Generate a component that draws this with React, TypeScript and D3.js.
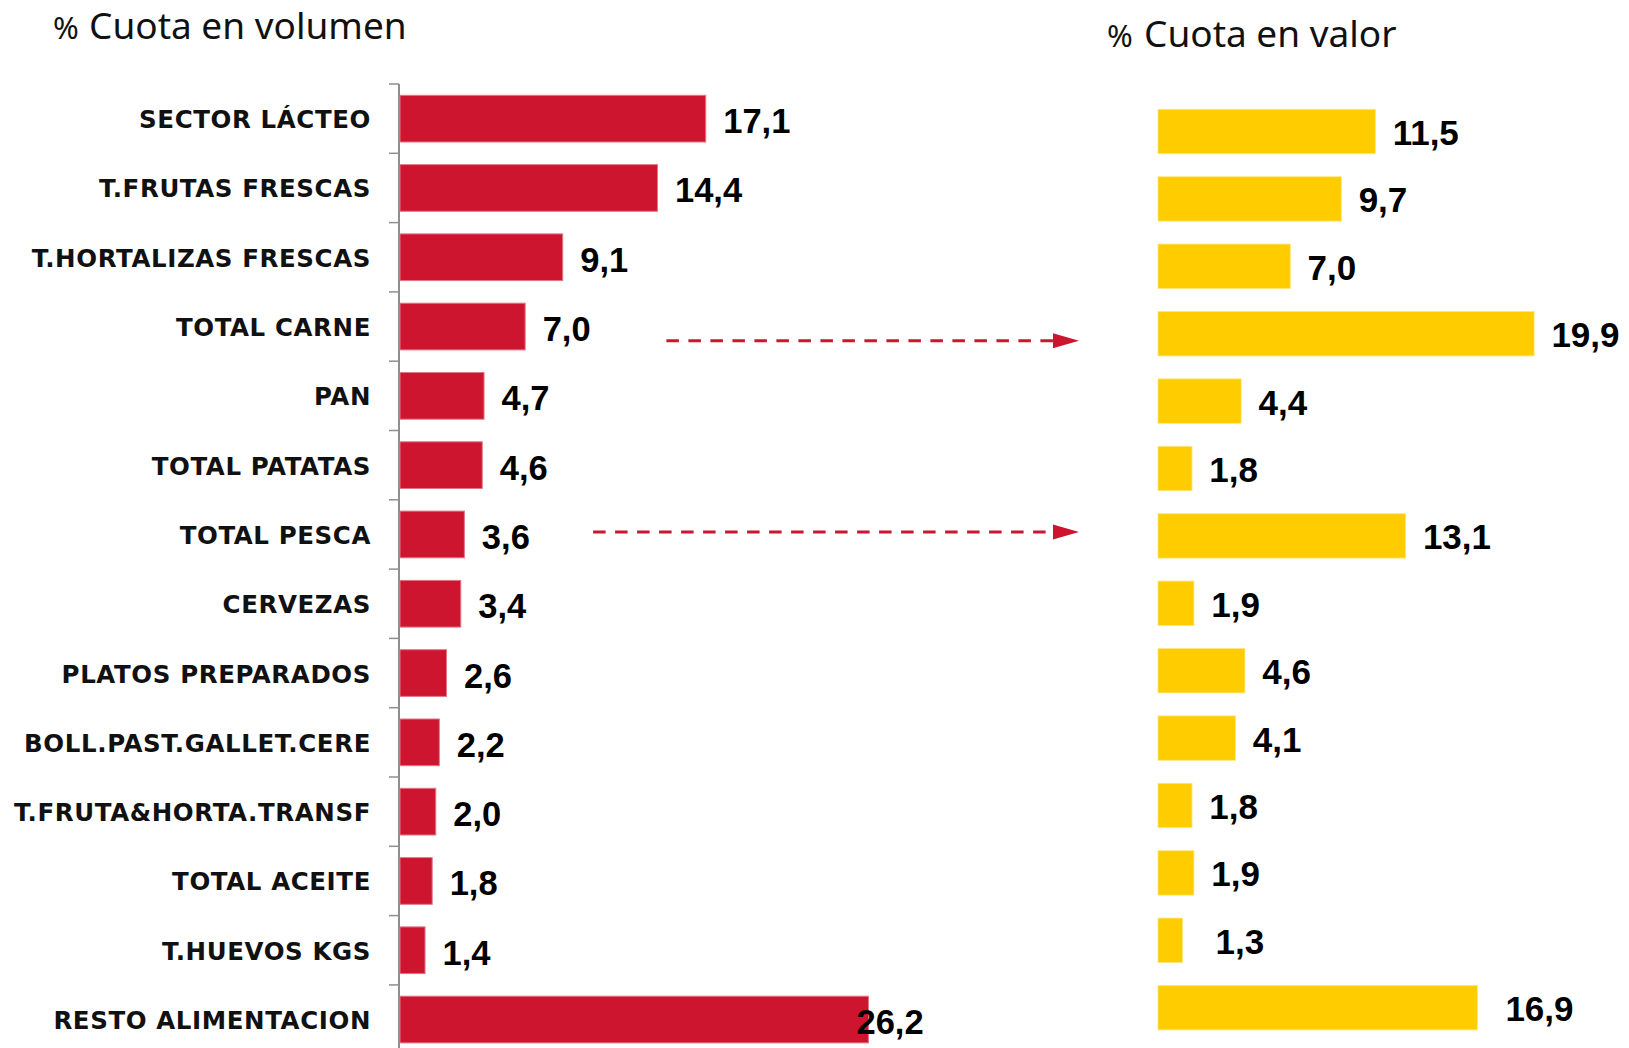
import React from "react";
import * as d3 from "d3";

const categories = [
  "SECTOR LÁCTEO",
  "T.FRUTAS FRESCAS",
  "T.HORTALIZAS FRESCAS",
  "TOTAL CARNE",
  "PAN",
  "TOTAL PATATAS",
  "TOTAL PESCA",
  "CERVEZAS",
  "PLATOS PREPARADOS",
  "BOLL.PAST.GALLET.CERE",
  "T.FRUTA&HORTA.TRANSF",
  "TOTAL ACEITE",
  "T.HUEVOS KGS",
  "RESTO ALIMENTACION",
];
const volumen = [17.1, 14.4, 9.1, 7.0, 4.7, 4.6, 3.6, 3.4, 2.6, 2.2, 2.0, 1.8, 1.4, 26.2];
const valor = [11.5, 9.7, 7.0, 19.9, 4.4, 1.8, 13.1, 1.9, 4.6, 4.1, 1.8, 1.9, 1.3, 16.9];
const titleVolumen = "Cuota en volumen";
const titleValor = "Cuota en valor";
const arrowCats = ["TOTAL CARNE", "TOTAL PESCA"];
const arrowFrom = [14.9, 10.8]; // start, in volumen units

const W = 1629;
const H = 1048;
const RED = "#CD1530";
const YELLOW = "#FFCC00";
const fmt = (v: number) => v.toFixed(1).replace(".", ",");

// layout tweaks
const arrowDy = [7, -4];
const valorGapOverride: Record<number, number> = { 12: 33, 13: 28 };

export default function App() {
  React.useEffect(() => {
    document.body.style.margin = "0";
  }, []);

  const xL = d3.scaleLinear().domain([0, 30]).range([400, 400 + 30 * 17.88]);
  const yL = d3
    .scaleBand<string>()
    .domain(categories)
    .range([84, 84 + 14 * 69.3])
    .paddingInner(0.326)
    .paddingOuter(0.163);

  const xR = d3.scaleLinear().domain([0, 20]).range([1158, 1158 + 20 * 18.9]);
  const yR = d3
    .scaleBand<string>()
    .domain(categories)
    .range([97.8, 97.8 + 14 * 67.4])
    .paddingInner(0.341)
    .paddingOuter(0.1705);

  const stepL = yL.step();
  const axisTop = 84;
  const ticks = d3.range(categories.length + 1).map((i) => axisTop + i * stepL);

  const catFont = "'DejaVu Sans', sans-serif";
  const numFont = "'Liberation Sans', Arial, sans-serif";
  const titleFont = "'Noto Sans', sans-serif";

  return (
    <svg width={W} height={H} style={{ display: "block" }}>
      <rect x={0} y={0} width={W} height={H} fill="#fff" />
      {/* titles */}
      <text x={53} y={38.5} fontFamily={titleFont} fill="#111">
        <tspan fontSize={31}>%</tspan>
        <tspan x={89} fontSize={37}>{titleVolumen}</tspan>
      </text>
      <text x={1107} y={47} fontFamily={titleFont} fill="#111">
        <tspan fontSize={31}>%</tspan>
        <tspan x={1144} fontSize={37}>{titleValor}</tspan>
      </text>

      {/* left axis */}
      <line x1={399} x2={399} y1={axisTop} y2={H} stroke="#8f8f8f" strokeWidth={2} />
      {ticks.map((t, i) => (
        <line key={i} x1={389} x2={399} y1={t} y2={t} stroke="#8f8f8f" strokeWidth={1.5} />
      ))}

      {/* left bars */}
      {categories.map((c, i) => {
        const y0 = yL(c)!;
        const bw = yL.bandwidth();
        const v = volumen[i];
        const last = i === categories.length - 1;
        return (
          <g key={c}>
            <text
              x={371}
              y={y0 + bw / 2 + 9.5}
              textAnchor="end"
              fontFamily={catFont}
              fontWeight="bold"
              fontSize={24.5}
              letterSpacing={0.6}
              fill="#111"
            >
              {c}
            </text>
            <rect
              x={xL(0)}
              y={y0}
              width={xL(v) - xL(0)}
              height={bw}
              fill={RED}
              stroke="#E27786"
              strokeWidth={1}
            />
            <text
              x={last ? xL(v) - 12 : xL(v) + 17.5}
              y={y0 + bw / 2 + 14.5}
              fontFamily={numFont}
              fontWeight="bold"
              fontSize={34.5}
              fill="#000"
            >
              {fmt(v)}
            </text>
          </g>
        );
      })}

      {/* right bars */}
      {categories.map((c, i) => {
        const y0 = yR(c)!;
        const bw = yR.bandwidth();
        const v = valor[i];
        const gap = valorGapOverride[i] ?? 17.3;
        return (
          <g key={c}>
            <rect x={xR(0)} y={y0} width={xR(v) - xR(0)} height={bw} fill={YELLOW} stroke="#FFE680" strokeWidth={0.8} />
            <text
              x={xR(v) + gap}
              y={y0 + bw / 2 + 13.5}
              fontFamily={numFont}
              fontWeight="bold"
              fontSize={35}
              fill="#000"
            >
              {fmt(v)}
            </text>
          </g>
        );
      })}

      {/* arrows */}
      {arrowCats.map((c, i) => {
        const y = yR(c)! + yR.bandwidth() / 2 + arrowDy[i];
        const tip = xR(0) - 79;
        const headLen = 26;
        return (
          <g key={c}>
            <line
              x1={xL(arrowFrom[i])}
              x2={tip - headLen}
              y1={y}
              y2={y}
              stroke={RED}
              strokeWidth={3}
              strokeDasharray="12.5 9.5"
            />
            <path
              d={`M${tip - headLen},${y - 7.5}L${tip},${y}L${tip - headLen},${y + 7.5}Z`}
              fill={RED}
            />
          </g>
        );
      })}
    </svg>
  );
}
